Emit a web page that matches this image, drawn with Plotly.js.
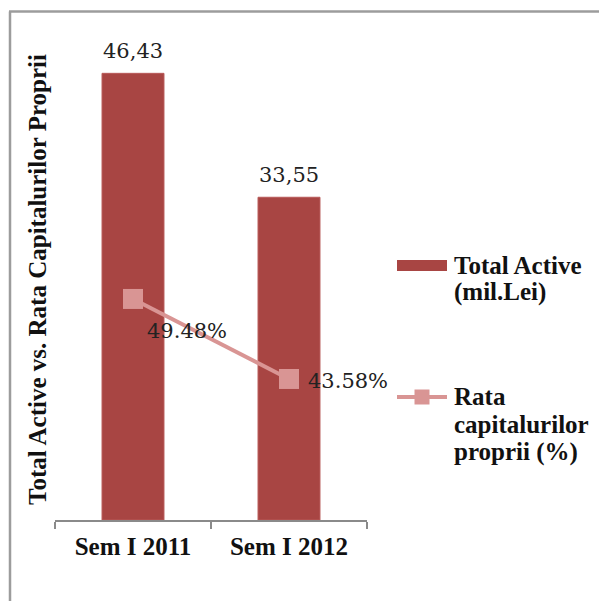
<!DOCTYPE html>
<html>
<head>
<meta charset="utf-8">
<script src="https://cdn.plot.ly/plotly-3.0.1.min.js"></script>
<style>
html,body{margin:0;padding:0;background:#fff;}
#chart{width:599px;height:601px;}
</style>
</head>
<body>
<div id="chart"></div>
<script>
// ---- data ----
const categories = ['Sem I 2011', 'Sem I 2012'];
const totalActive = [46.43, 33.55];            // mil. Lei
const rataCapitaluri = [49.48, 43.58];          // %
const seriesNames = ['Total Active (mil.Lei)', 'Rata capitalurilor proprii (%)'];
const legendLines1 = ['Total Active', '(mil.Lei)'];
const legendLines2 = ['Rata', 'capitalurilor', 'proprii (%)'];
const yTitle = 'Total Active vs. Rata Capitalurilor Proprii';

// ---- geometry helpers (plot area in px) ----
const W = 599, H = 601;
const L = 55, R = 367, T = 39, B = 520;
const pw = R - L, ph = B - T;
const px = x => (x - L) / pw;
const py = y => (B - y) / ph;

const barColor = '#a84543';
const lineColor = '#d99594';
const boldFont = 'Liberation Serif, Times New Roman, serif';
const numFont = 'DejaVu Serif, serif';

const fmtComma = v => v.toFixed(2).replace('.', ',');
const fmtPct = v => v.toFixed(2) + '%';

const traces = [
  {
    type: 'bar', name: seriesNames[0], x: categories, y: totalActive,
    marker: {color: barColor, line: {color: '#b85a58', width: 1}},
    yaxis: 'y', showlegend: false, hoverinfo: 'x+y'
  },
  {
    type: 'scatter', mode: 'lines+markers', name: seriesNames[1],
    x: categories, y: rataCapitaluri, yaxis: 'y2',
    line: {color: lineColor, width: 4},
    marker: {symbol: 'square', size: 20, color: lineColor},
    showlegend: false
  }
];

const annotations = [];
// bar labels
categories.forEach((c, i) => {
  annotations.push({
    x: c, y: totalActive[i], xref: 'x', yref: 'y',
    text: fmtComma(totalActive[i]), showarrow: false,
    yanchor: 'bottom', xanchor: 'center', yshift: 8,
    font: {family: numFont, size: 21, color: '#222'}
  });
});
// line labels
const pctShift = [[12, -32], [17, -2]];
categories.forEach((c, i) => {
  annotations.push({
    x: c, y: rataCapitaluri[i], xref: 'x', yref: 'y2',
    text: fmtPct(rataCapitaluri[i]), showarrow: false,
    xanchor: 'left', yanchor: 'middle',
    xshift: pctShift[i][0], yshift: pctShift[i][1],
    font: {family: numFont, size: 21, color: '#222'}
  });
});
// legend text
const leg1Y = [265, 292];
legendLines1.forEach((t, i) => annotations.push({
  x: px(452), y: py(leg1Y[i]), xref: 'paper', yref: 'paper',
  text: '<b>' + t + '</b>', showarrow: false, xanchor: 'left', yanchor: 'middle',
  font: {family: boldFont, size: 25, color: '#111'}
}));
const leg2Y = [397, 425, 452];
legendLines2.forEach((t, i) => annotations.push({
  x: px(452), y: py(leg2Y[i]), xref: 'paper', yref: 'paper',
  text: '<b>' + t + '</b>', showarrow: false, xanchor: 'left', yanchor: 'middle',
  font: {family: boldFont, size: 25, color: '#111'}
}));

const shapes = [
  // frame
  {type: 'line', xref: 'paper', yref: 'paper', x0: px(9), x1: px(600), y0: py(11.5), y1: py(11.5),
   line: {color: '#9c9c9c', width: 2.5}},
  {type: 'line', xref: 'paper', yref: 'paper', x0: px(10), x1: px(10), y0: py(11.5), y1: py(602),
   line: {color: '#9c9c9c', width: 2.5}},
  // legend swatches
  {type: 'rect', xref: 'paper', yref: 'paper', x0: px(397), x1: px(447), y0: py(271), y1: py(260),
   fillcolor: barColor, line: {width: 0}},
  {type: 'line', xref: 'paper', yref: 'paper', x0: px(397), x1: px(447), y0: py(397), y1: py(397),
   line: {color: lineColor, width: 4}},
  {type: 'rect', xref: 'paper', yref: 'paper', x0: px(414.5), x1: px(429.5), y0: py(404.5), y1: py(389.5),
   fillcolor: lineColor, line: {width: 0}}
];

const layout = {
  width: W, height: H,
  margin: {l: L, r: W - R, t: T, b: H - B, pad: 0},
  paper_bgcolor: '#fff', plot_bgcolor: '#fff',
  bargap: 0.603,
  showlegend: false,
  xaxis: {
    type: 'category', range: [-0.5, 1.5], showgrid: false, zeroline: false,
    showline: true, linecolor: '#8a8a8a', linewidth: 1.5,
    ticks: 'outside', tickson: 'boundaries', ticklen: 7, tickcolor: '#8a8a8a', tickwidth: 1.5,
    tickfont: {family: boldFont, size: 25, color: '#111', weight: 'bold'},
    ticklabelstandoff: 3
  },
  yaxis: {
    range: [0, 50], showgrid: false, zeroline: false, showline: false,
    showticklabels: false, ticks: '',
    title: {text: '<b>' + yTitle + '</b>', font: {family: boldFont, size: 25, color: '#111'}, standoff: 0}
  },
  yaxis2: {
    overlaying: 'y', side: 'right', range: [33.18, 68.65], visible: false
  },
  annotations: annotations,
  shapes: shapes
};

Plotly.newPlot('chart', traces, layout, {displayModeBar: false, staticPlot: true});
</script>
</body>
</html>
